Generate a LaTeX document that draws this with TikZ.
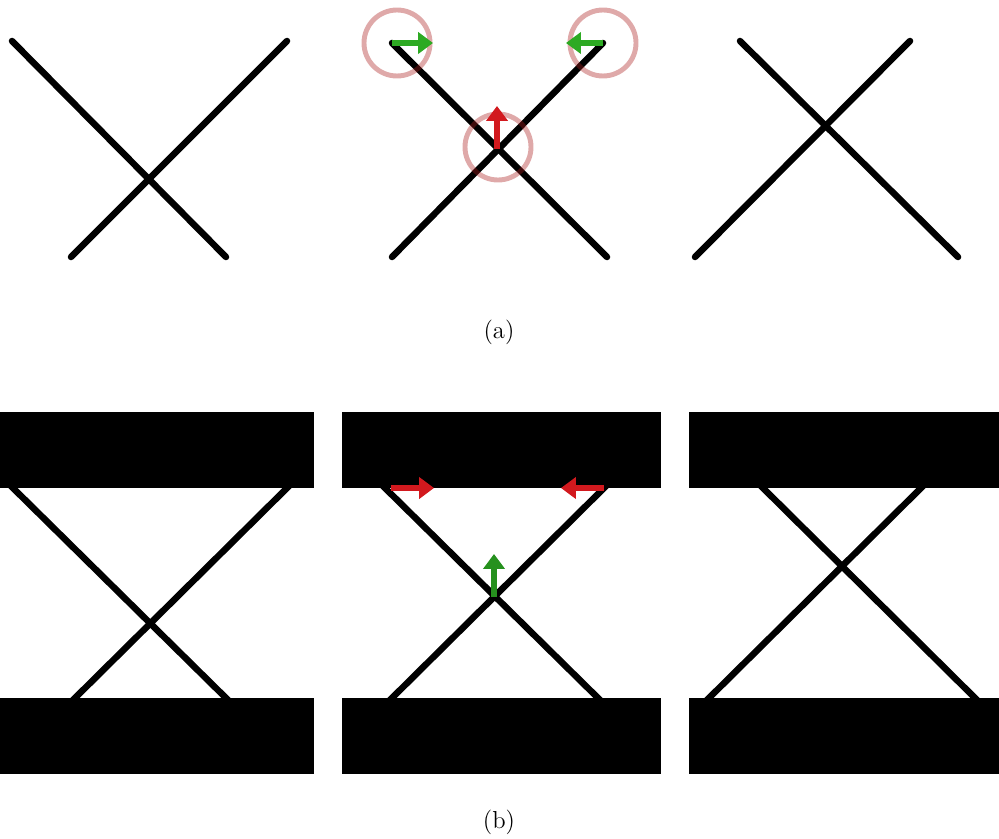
\documentclass[tikz,border=0pt]{standalone}
\usetikzlibrary{arrows.meta}
\definecolor{tipgreen}{RGB}{45,170,35}
\definecolor{tipred}{RGB}{210,25,30}
\definecolor{ringred}{RGB}{170,30,30}
\tikzset{
    wire/.style={line width=3.7pt, line cap=round},
    barwire/.style={line width=3.7pt, shorten <=-6pt, shorten >=-6pt},
    ring/.style={ringred, opacity=0.38, line width=2.8pt},
    push/.style={line width=3.8pt, -{Triangle[length=8.5pt,width=12pt]}},
    slab/.style={fill=black}
}
\begin{document}
\begin{tikzpicture}[x=0.02cm,y=-0.02cm]
    \useasboundingbox (0,0) rectangle (999,838);
    % (a) three stages of the crossing
    \coordinate (a1tl) at (12,41);   \coordinate (a1br) at (226,257);
    \coordinate (a1tr) at (287,41);  \coordinate (a1bl) at (71,257);
    \coordinate (a2tl) at (392,43);  \coordinate (a2br) at (607,257);
    \coordinate (a2tr) at (603,43);  \coordinate (a2bl) at (392,257);
    \coordinate (a3tl) at (740,41);  \coordinate (a3br) at (958,257);
    \coordinate (a3tr) at (910,41);  \coordinate (a3bl) at (695,257);
    \foreach \i in {1,2,3}
    {
        \draw[wire] (a\i tl) -- (a\i br);
        \draw[wire] (a\i tr) -- (a\i bl);
    }
    \coordinate (ax) at (497,149);
    \draw[ring] (397,43) circle (33);
    \draw[ring] (603,43) circle (33);
    \draw[ring] (498,147) circle (33);
    \coordinate (gl) at (433,43);
    \coordinate (gr) at (566,43);
    \coordinate (ru) at (497,106);
    \draw[push,tipgreen] (a2tl) -- (gl);
    \draw[push,tipgreen] (a2tr) -- (gr);
    \draw[push,tipred] (ax) -- (ru);
    \node (capa) at (499,332) {\fontsize{14}{16}\selectfont (a)};

    % (b) the same crossing held between two bars
    \coordinate (b1tl) at (13,488);  \coordinate (b1br) at (226,698);
    \coordinate (b1tr) at (287,488); \coordinate (b1bl) at (75,698);
    \coordinate (b2tl) at (385,488); \coordinate (b2br) at (598,698);
    \coordinate (b2tr) at (604,488); \coordinate (b2bl) at (392,698);
    \coordinate (b3tl) at (763,488); \coordinate (b3br) at (975,698);
    \coordinate (b3tr) at (921,488); \coordinate (b3bl) at (709,698);
    \foreach \i/\xa/\xb in {1/0/314,2/342/661,3/689/999}
    {
        \draw[barwire] (b\i tl) -- (b\i br);
        \draw[barwire] (b\i tr) -- (b\i bl);
        \fill[slab] (\xa,412) rectangle (\xb,488);
        \fill[slab] (\xa,698) rectangle (\xb,774);
    }
    \coordinate (bx) at (494,597);
    \coordinate (rl0) at (391,488); \coordinate (rl) at (434,488);
    \coordinate (rr0) at (604,488); \coordinate (rr) at (561,488);
    \coordinate (gu) at (494,554);
    \draw[push,tipred] (rl0) -- (rl);
    \draw[push,tipred] (rr0) -- (rr);
    \draw[push,tipgreen!85!black] (bx) -- (gu);
    \node (capb) at (499,822) {\fontsize{14}{16}\selectfont (b)};
\end{tikzpicture}
\end{document}
